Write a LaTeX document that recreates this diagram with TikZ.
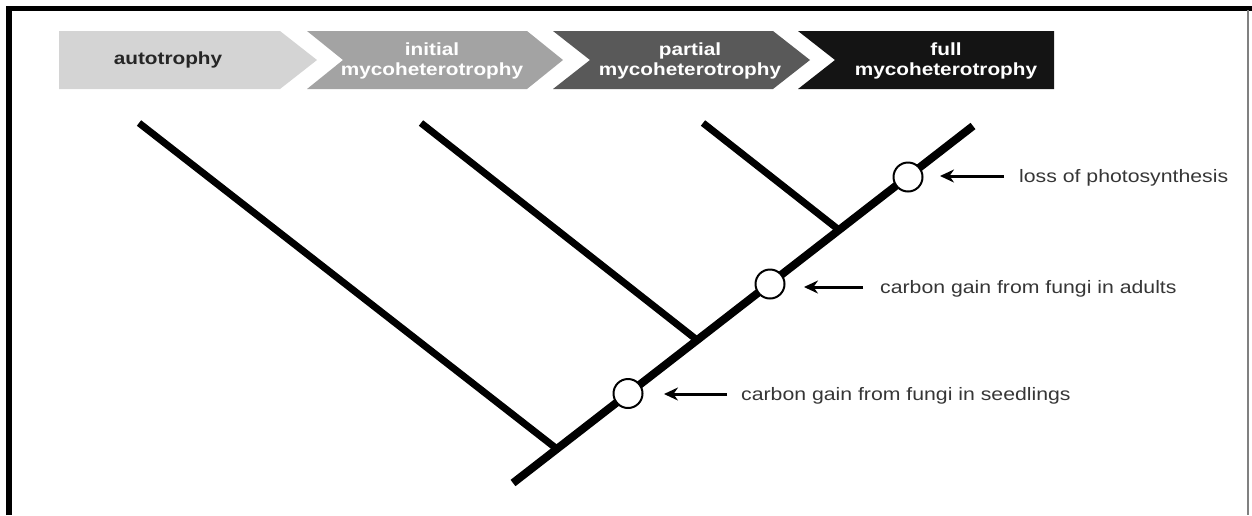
\documentclass[tikz,border=0pt]{standalone}
\usepackage{fontspec}
\setmainfont{Liberation Sans}[FakeStretch=1.18]
\usetikzlibrary{arrows.meta}
\definecolor{stageA}{HTML}{D4D4D4}
\definecolor{stageB}{HTML}{A3A3A3}
\definecolor{stageC}{HTML}{595959}
\definecolor{stageD}{HTML}{141414}
\definecolor{labelgray}{HTML}{363636}
\begin{document}
\begin{tikzpicture}[x=1pt,y=-1pt,
  stagetext/.style={font=\fontsize{17.6}{19.5}\selectfont\bfseries, align=center, inner sep=0pt},
  trunk/.style={line width=8pt},
  branch/.style={line width=7pt},
  event/.style={circle, draw=black, line width=2pt, fill=white, minimum size=29pt, inner sep=0pt},
  eventlabel/.style={font=\fontsize{18}{20}\selectfont, text=labelgray, anchor=base west, inner sep=0pt},
  pointer/.style={line width=3pt, -{Stealth[length=14pt,width=13pt]}}]
\useasboundingbox (0,0) rectangle (1252,515);

% frame
\draw[line width=6pt] (9,515) -- (9,5.6);
\draw[line width=4.8pt] (6,8.4) -- (1252,8.4);
\draw[gray, line width=1.5pt] (1248,10) -- (1248,515);

% stage banner
\fill[stageA] (59,31) -- (280,31) -- (317,60) -- (280,89) -- (59,89) -- cycle;
\fill[stageB] (307,31) -- (527,31) -- (563,60) -- (527,89) -- (307,89) -- (343,60) -- cycle;
\fill[stageC] (553,31) -- (773,31) -- (810,60) -- (773,89) -- (553,89) -- (590,60) -- cycle;
\fill[stageD] (798,31) -- (1054,31) -- (1054,89) -- (798,89) -- (835,60) -- cycle;
\node[stagetext, text=black!85] (sA) at (168,60) {autotrophy};
\node[stagetext, text=white] (sB) at (432,61) {initial\\mycoheterotrophy};
\node[stagetext, text=white] (sC) at (690,61) {partial\\mycoheterotrophy};
\node[stagetext, text=white] (sD) at (946,61) {full\\mycoheterotrophy};

% tree
\coordinate (root) at (513,483);
\coordinate (tip) at (973,126);
\coordinate (b1) at (139,123);
\coordinate (b2) at (421,123);
\coordinate (b3) at (703,123);
\coordinate (j1) at (557,449);
\coordinate (j2) at (697,340);
\coordinate (j3) at (839,230);
\draw[branch] (b1) -- (j1);
\draw[branch] (b2) -- (j2);
\draw[branch] (b3) -- (j3);
\draw[trunk] (root) -- (tip);

% events on the trunk
\node[event] (e1) at (628,393.5) {};
\node[event] (e2) at (770,284) {};
\node[event] (e3) at (908,177) {};

% event labels and pointers
\node[eventlabel] (l1) at (741,400) {carbon gain from fungi in seedlings};
\node[eventlabel] (l2) at (880,293) {carbon gain from fungi in adults};
\node[eventlabel] (l3) at (1019,182) {loss of photosynthesis};
\coordinate (p1s) at (727,394);
\coordinate (p1e) at (664,394);
\coordinate (p2s) at (863,287);
\coordinate (p2e) at (804,287);
\coordinate (p3s) at (1004,176);
\coordinate (p3e) at (940,176);
\draw[pointer] (p1s) -- (p1e);
\draw[pointer] (p2s) -- (p2e);
\draw[pointer] (p3s) -- (p3e);
\end{tikzpicture}
\end{document}
